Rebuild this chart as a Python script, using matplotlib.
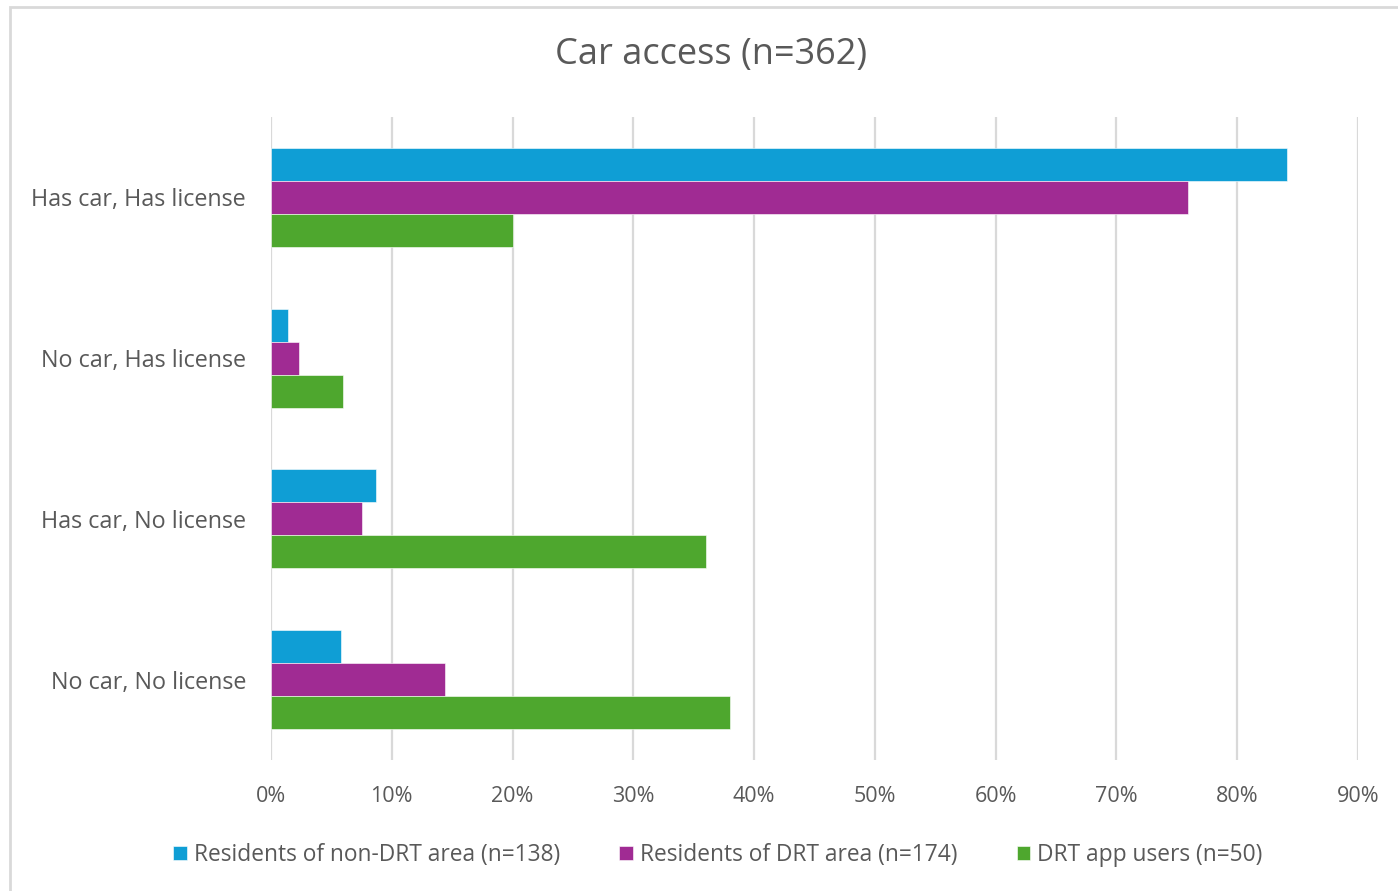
import matplotlib
matplotlib.use("Agg")
import matplotlib.pyplot as plt
from matplotlib.patches import Rectangle
import numpy as np

categories = ["Has car, Has license", "No car, Has license", "Has car, No license", "No car, No license"]
series_names = ["Residents of non-DRT area (n=138)", "Residents of DRT area (n=174)", "DRT app users (n=50)"]
non_drt = [84.1, 1.4, 8.7, 5.8]
drt_area = [75.9, 2.3, 7.5, 14.4]
app_users = [20.0, 6.0, 36.0, 38.0]
x_ticks = [0, 10, 20, 30, 40, 50, 60, 70, 80, 90]
x_tick_labels = ["0%", "10%", "20%", "30%", "40%", "50%", "60%", "70%", "80%", "90%"]
colors = ["#0F9ED5", "#A02B93", "#4EA72E"]

plt.rcParams['font.family'] = ['Open Sans', 'DejaVu Sans']
W, H = 1398, 891
fig = plt.figure(figsize=(W / 100, H / 100), dpi=100)
fig.patch.set_facecolor("white")

# outer chart border
fig.patches.append(Rectangle((10 / W, -0.1), 1.2, 1 - 7 / H + 0.1, transform=fig.transFigure,
                             fill=False, edgecolor="#D9D9D9", linewidth=2, zorder=0))

ax = fig.add_axes([271 / W, 1 - 760 / H, (1358 - 271) / W, (760 - 117) / H])
y = np.arange(len(categories))
h = 0.205
for i, (vals, name) in enumerate(zip([non_drt, drt_area, app_users], series_names)):
    ax.barh(y + (i - 1) * h, vals, height=h, color=colors[i], label=name, zorder=3,
            edgecolor="white", linewidth=0.4)

ax.set_xlim(0, 90)
ax.set_ylim(3.5, -0.5)
ax.set_xticks(x_ticks)
ax.set_xticklabels(x_tick_labels)
ax.set_yticks(y)
ax.set_yticklabels(categories)
ax.tick_params(axis="x", length=0, labelsize=15.5, colors="#595959", pad=19)
ax.tick_params(axis="y", length=0, labelsize=16.8, colors="#595959", pad=18)
ax.grid(axis="x", color="#D9D9D9", linewidth=1.6, zorder=0)
ax.set_axisbelow(True)
for s in ax.spines.values():
    s.set_visible(False)

fig.text(711 / W, 1 - 55 / H, "Car access (n=362)", ha="center", va="center",
         fontsize=26, color="#595959")

leg = fig.legend(loc="center", bbox_to_anchor=(718 / W, 1 - 855 / H), ncol=3, frameon=False,
                 fontsize=16.4, handlelength=0.6, handleheight=0.6, handletextpad=0.3,
                 columnspacing=2.6, labelcolor="#595959")

fig.savefig("out.png", dpi=100, facecolor="white")
